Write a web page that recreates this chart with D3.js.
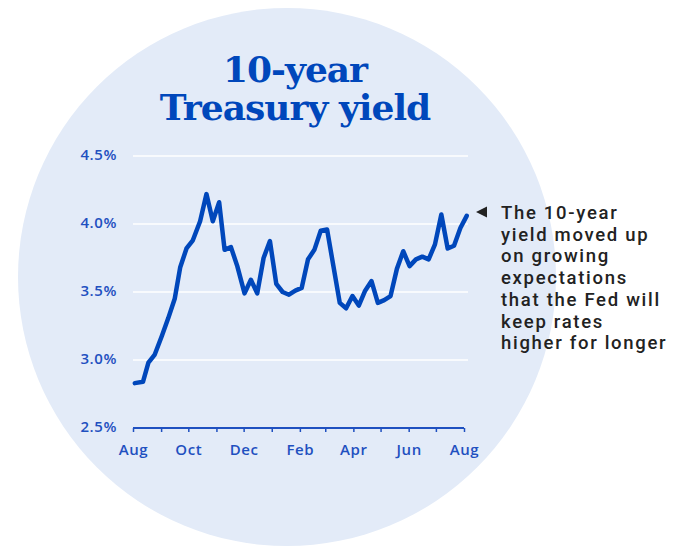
<!DOCTYPE html>
<html>
<head>
<meta charset="utf-8">
<script src="https://cdn.jsdelivr.net/npm/d3@7"></script>
<style>
  body { margin: 0; background: #fff; }
</style>
</head>
<body>
<div id="chart"></div>
<script>
// weekly 10-year yield
const dates = ["2022-08-03","2022-08-12","2022-08-18","2022-08-25","2022-09-02","2022-09-09","2022-09-16","2022-09-22","2022-09-29",
  "2022-10-06","2022-10-14","2022-10-21","2022-10-28","2022-11-04","2022-11-10","2022-11-17","2022-11-24","2022-12-02","2022-12-09",
  "2022-12-16","2022-12-23","2022-12-30","2023-01-06","2023-01-13","2023-01-20","2023-01-27","2023-02-03","2023-02-10","2023-02-17",
  "2023-02-24","2023-03-03","2023-03-10","2023-03-17","2023-03-24","2023-03-31","2023-04-07","2023-04-14","2023-04-21","2023-04-28",
  "2023-05-05","2023-05-12","2023-05-19","2023-05-26","2023-06-02","2023-06-09","2023-06-16","2023-06-23","2023-06-30","2023-07-07",
  "2023-07-14","2023-07-21","2023-07-28","2023-08-04"];
const yields = [2.83,2.84,2.98,3.04,3.18,3.31,3.45,3.68,3.82,
  3.88,4.02,4.22,4.02,4.16,3.81,3.83,3.69,3.49,3.59,
  3.49,3.75,3.875,3.56,3.50,3.48,3.51,3.53,3.74,3.81,
  3.95,3.96,3.69,3.42,3.38,3.47,3.40,3.51,3.58,3.42,
  3.44,3.47,3.67,3.80,3.69,3.74,3.76,3.74,3.85,4.07,
  3.82,3.84,3.97,4.06];
const yTicks = [2.5, 3.0, 3.5, 4.0, 4.5];
const monthLabels = ["Aug","Oct","Dec","Feb","Apr","Jun","Aug"];
const titleLines = ["10-year", "Treasury yield"];
const noteLines = ["The 10-year", "yield moved up", "on growing", "expectations", "that the Fed will", "keep rates", "higher for longer"];

const width = 682, height = 547;
const blue = "#0047bb";
const parse = d3.timeParse("%Y-%m-%d");
const data = dates.map((d, i) => ({date: parse(d), value: yields[i]}));

let svg = d3.select("#chart")
            .append("svg")
            .attr("width", width)
            .attr("height", height);

// background disc
svg.append("circle")
   .attr("cx", 287)
   .attr("cy", 277)
   .attr("r", 269)
   .attr("fill", "#e3ebf8");

// title
svg.selectAll(".title")
   .data(titleLines)
   .enter()
   .append("text")
   .attr("class", "title")
   .attr("x", 295)
   .attr("y", (d, i) => 82 + i * 38)
   .attr("text-anchor", "middle")
   .attr("fill", blue)
   .style("font-family", "DejaVu Serif")
   .style("font-weight", "bold")
   .style("font-size", "36px")
   .style("letter-spacing", "-1px")
   .text(d => d);

const x = d3.scaleTime()
            .domain([parse("2022-08-01"), parse("2023-08-01")])
            .range([133, 464]);
const y = d3.scaleLinear()
            .domain([2.5, 4.5])
            .range([428, 156]);

// gridlines
svg.selectAll(".grid")
   .data(yTicks.slice(1))
   .enter()
   .append("line")
   .attr("x1", 133)
   .attr("x2", 468)
   .attr("y1", d => y(d))
   .attr("y2", d => y(d))
   .attr("stroke", "#fff")
   .style("stroke-width", 1.5);

// y labels
svg.selectAll(".ylab")
   .data(yTicks)
   .enter()
   .append("text")
   .attr("x", 117)
   .attr("y", d => y(d))
   .attr("text-anchor", "end")
   .attr("dominant-baseline", "middle")
   .attr("fill", "#1f50c0")
   .style("font-family", "Open Sans")
   .style("font-weight", 600)
   .style("font-size", "15px")
   .style("letter-spacing", "0.6px")
   .text(d => d.toFixed(1) + "%");

// x axis
const xAxis = d3.axisBottom(x)
                .ticks(d3.timeMonth.every(1))
                .tickSize(4)
                .tickFormat((d, i) => i % 2 == 0 ? monthLabels[i / 2] : "");
let ax = svg.append("g")
            .attr("transform", `translate(0,${y(2.5)})`)
            .call(xAxis);
ax.select(".domain")
  .attr("d", `M${x.range()[0]},0H${x.range()[1]}`)
  .attr("stroke", "#1f50c0")
  .style("stroke-width", 2);
ax.selectAll(".tick line")
  .attr("stroke", "#1f50c0")
  .style("stroke-width", 1.5);
ax.selectAll(".tick text")
  .attr("fill", "#1f50c0")
  .attr("dy", "1.3em")
  .style("font-family", "Open Sans")
  .style("font-weight", 600)
  .style("font-size", "15px")
  .style("letter-spacing", "0.6px");

// yield line
const line = d3.line()
               .x(d => x(d.date))
               .y(d => y(d.value));
svg.append("path")
   .datum(data)
   .attr("d", line)
   .attr("fill", "none")
   .attr("stroke", blue)
   .style("stroke-width", 4.5)
   .attr("stroke-linejoin", "round")
   .attr("stroke-linecap", "round");

// annotation
svg.append("path")
   .attr("d", "M476,212L487,206.5L487,217.5Z")
   .attr("fill", "#222");
svg.selectAll(".note")
   .data(noteLines)
   .enter()
   .append("text")
   .attr("x", 501)
   .attr("y", (d, i) => 219 + i * 21.7)
   .attr("fill", "#222")
   .style("font-family", "Roboto")
   .style("font-weight", 500)
   .style("font-size", "18.5px")
   .style("letter-spacing", "1.7px")
   .text(d => d);
</script>
</body>
</html>
